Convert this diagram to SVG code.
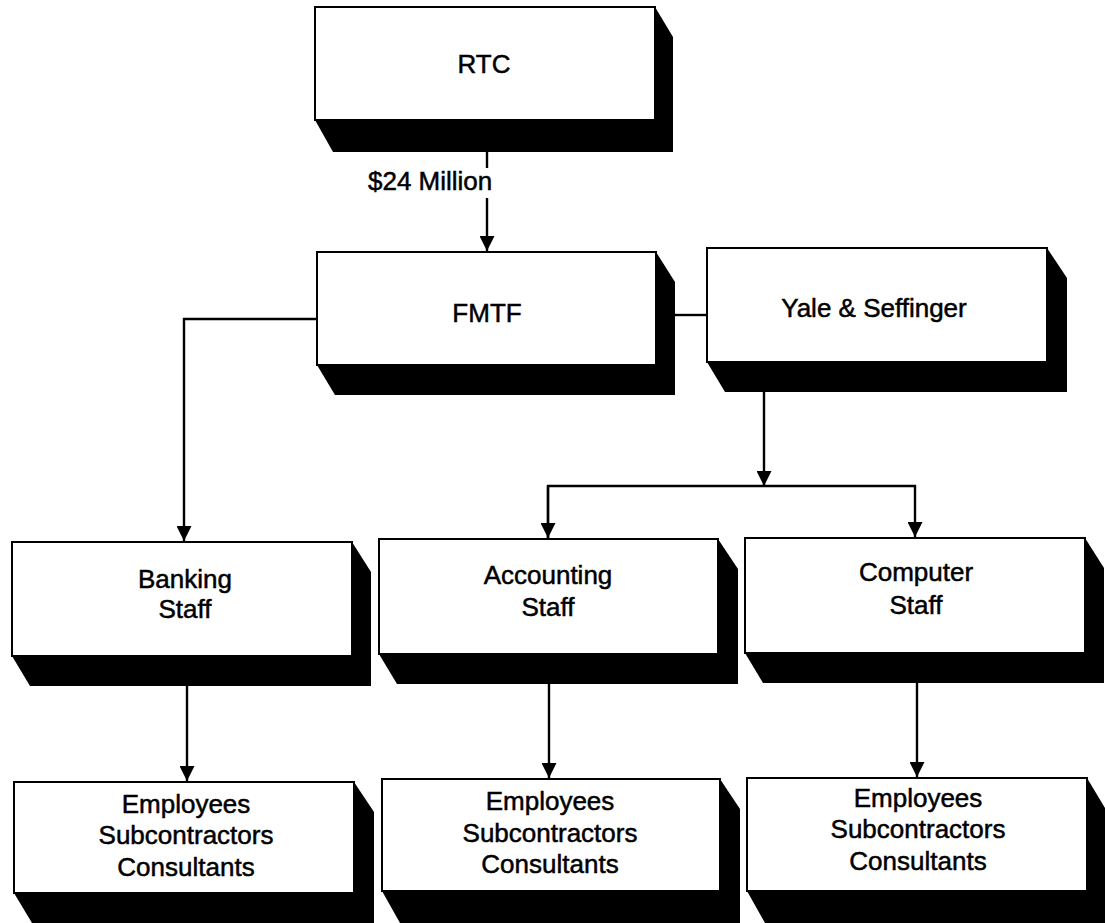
<svg xmlns="http://www.w3.org/2000/svg" width="1105" height="923" viewBox="0 0 1105 923">
<style>
.face{fill:#fff;stroke:#000;stroke-width:2}
.sh{fill:#000}
.t{font-family:"Liberation Sans",Arial,sans-serif;font-size:26px;fill:#000;stroke:#000;stroke-width:0.5;text-anchor:middle}
.c{fill:none;stroke:#000;stroke-width:2.4}
</style>
<defs>
<marker id="ah" viewBox="0 0 15 15" refX="15" refY="7.5" markerWidth="15" markerHeight="15" markerUnits="userSpaceOnUse" orient="auto">
<path d="M0,0 L15,7.5 L0,15 Z" fill="#000"/>
</marker>
</defs>
<g id="connectors">
<line class="c" x1="487" y1="152" x2="487" y2="168"/>
<line class="c" x1="487" y1="198" x2="487" y2="251" marker-end="url(#ah)"/>
<text class="t" x="368" y="190" style="text-anchor:start">$24 Million</text>
<line class="c" x1="675" y1="315" x2="707" y2="315"/>
<polyline class="c" points="317,319 184,319 184,541" marker-end="url(#ah)"/>
<line class="c" x1="764" y1="392" x2="764" y2="486" marker-end="url(#ah)"/>
<polyline class="c" points="548,538 548,486 915,486 915,537" marker-end="url(#ah)"/>
<line class="c" x1="548" y1="486" x2="548" y2="538" marker-end="url(#ah)"/>
<line class="c" x1="187" y1="686" x2="187" y2="781" marker-end="url(#ah)"/>
<line class="c" x1="549" y1="684" x2="549" y2="778" marker-end="url(#ah)"/>
<line class="c" x1="917" y1="683" x2="917" y2="777" marker-end="url(#ah)"/>
</g>
<g id="rtc">
<polygon class="sh" points="655,7 673,37 673,152 333,152 315,120"/>
<rect class="face" x="315" y="7" width="340" height="113"/>
<text class="t" x="484" y="73">RTC</text>
</g>
<g id="fmtf">
<polygon class="sh" points="656,252 675,282 675,395 335,395 317,365"/>
<rect class="face" x="317" y="252" width="339" height="113"/>
<text class="t" x="487" y="322">FMTF</text>
</g>
<g id="yale">
<polygon class="sh" points="1047,248 1067,278 1067,392 725,392 707,362"/>
<rect class="face" x="707" y="248" width="340" height="114"/>
<text class="t" x="874" y="317">Yale &amp; Seffinger</text>
</g>
<g id="banking">
<polygon class="sh" points="352,542 371,572 371,686 30,686 12,656"/>
<rect class="face" x="12" y="542" width="340" height="114"/>
<text class="t" x="185" y="588">Banking</text>
<text class="t" x="185" y="618">Staff</text>
</g>
<g id="accounting">
<polygon class="sh" points="718,539 738,569 738,684 397,684 379,654"/>
<rect class="face" x="379" y="539" width="339" height="115"/>
<text class="t" x="548" y="584">Accounting</text>
<text class="t" x="548" y="616">Staff</text>
</g>
<g id="computer">
<polygon class="sh" points="1085,538 1104,568 1104,683 763,683 745,653"/>
<rect class="face" x="745" y="538" width="340" height="115"/>
<text class="t" x="916" y="581">Computer</text>
<text class="t" x="916" y="614">Staff</text>
</g>
<g id="emp-banking">
<polygon class="sh" points="354,782 374,812 374,923 32,923 14,893"/>
<rect class="face" x="14" y="782" width="340" height="111"/>
<text class="t" x="186" y="813">Employees</text>
<text class="t" x="186" y="844">Subcontractors</text>
<text class="t" x="186" y="876">Consultants</text>
</g>
<g id="emp-accounting">
<polygon class="sh" points="720,779 740,809 740,923 400,923 382,891"/>
<rect class="face" x="382" y="779" width="338" height="112"/>
<text class="t" x="550" y="810">Employees</text>
<text class="t" x="550" y="842">Subcontractors</text>
<text class="t" x="550" y="873">Consultants</text>
</g>
<g id="emp-computer">
<polygon class="sh" points="1087,778 1105,808 1105,923 765,923 747,891"/>
<rect class="face" x="747" y="778" width="340" height="113"/>
<text class="t" x="918" y="807">Employees</text>
<text class="t" x="918" y="838">Subcontractors</text>
<text class="t" x="918" y="870">Consultants</text>
</g>
</svg>
